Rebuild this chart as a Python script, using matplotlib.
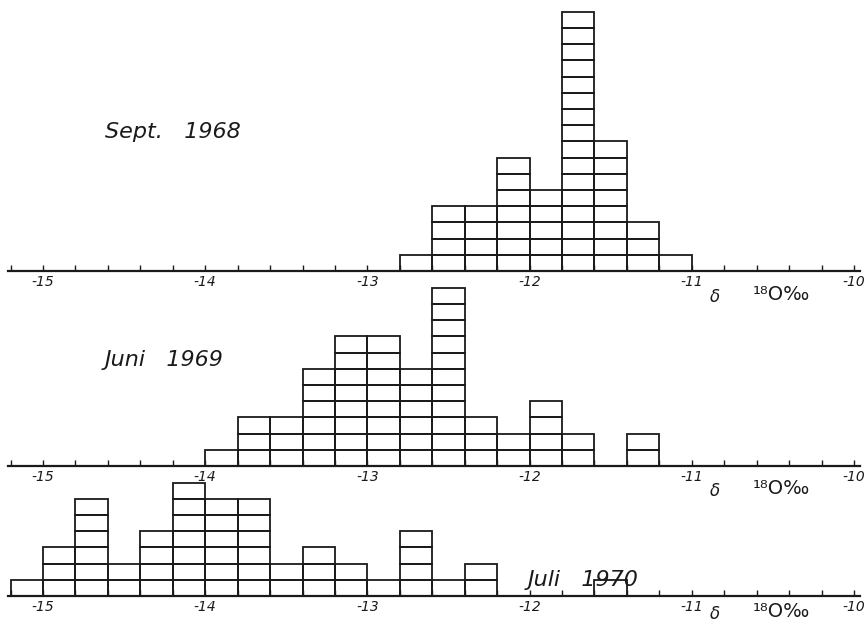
import numpy as np
import matplotlib
matplotlib.use("Agg")
import matplotlib.pyplot as plt

# delta-18O class limits (left edge of each 0.2 permil class) and counts per class
left_1968 = [-12.8, -12.6, -12.4, -12.2, -12.0, -11.8, -11.6, -11.4, -11.2]
count_1968 = [1, 4, 4, 7, 5, 16, 8, 3, 1]

left_1969 = [-14.0, -13.8, -13.6, -13.4, -13.2, -13.0, -12.8, -12.6,
             -12.4, -12.2, -12.0, -11.8, -11.6, -11.4]
count_1969 = [1, 3, 3, 6, 8, 8, 6, 11, 3, 2, 4, 2, 0, 2]

left_1970 = [-15.2, -15.0, -14.8, -14.6, -14.4, -14.2, -14.0, -13.8,
             -13.6, -13.4, -13.2, -13.0, -12.8, -12.6, -12.4, -12.2,
             -12.0, -11.8, -11.6]
count_1970 = [1, 3, 6, 2, 4, 7, 6, 6, 2, 3, 2, 1, 4, 1, 2, 0, 0, 0, 1]

titles = ["Sept.   1968", "Juni   1969", "Juli   1970"]
tick_vals = [-15, -14, -13, -12, -11, -10]

W, H = 868, 627
fig = plt.figure(figsize=(W / 100, H / 100), dpi=100)
fig.patch.set_facecolor("white")

px_per_count = 16.2
ax_left, ax_right = 8, 860          # pixel extent of the axis line
xmin = -15 - (43 - ax_left) / 162.2
xmax = -10 + (ax_right - 854) / 162.2
ink = "#1a1a1a"


def histo(base_px, ymax, lefts, counts, title, title_xy, lab_off):
    h = ymax * px_per_count
    ax = fig.add_axes([ax_left / W, base_px / H, (ax_right - ax_left) / W, h / H])
    lefts = np.array(lefts)
    counts = np.array(counts)
    # every count is drawn as its own box, stacked
    for k in range(counts.max()):
        sel = counts > k
        ax.bar(lefts[sel], 1, width=0.2, bottom=k, align="edge",
               fill=False, edgecolor=ink, linewidth=1.3)
    ax.set_xlim(xmin, xmax)
    ax.set_ylim(0, ymax)
    for s in ["top", "left", "right"]:
        ax.spines[s].set_visible(False)
    ax.spines["bottom"].set_linewidth(1.6)
    ax.spines["bottom"].set_color(ink)
    ax.set_yticks([])
    ax.set_xticks(tick_vals)
    ax.set_xticklabels([str(v) for v in tick_vals], fontstyle="italic",
                       fontsize=10, color=ink)
    ax.set_xticks(np.arange(-15.2, -9.9, 0.2), minor=True)
    ax.tick_params(axis="x", which="both", direction="in", length=4,
                   width=1, color=ink, pad=3)
    ax.patch.set_alpha(0)
    # axis label below the right end of the axis
    ax.annotate("δ", xy=(-10.86, 0), xytext=(0, -lab_off), textcoords="offset points",
                ha="center", va="center", fontsize=12, fontstyle="italic", color=ink)
    ax.annotate("¹⁸O‰", xy=(-10.45, 0), xytext=(0, -lab_off + 2), textcoords="offset points",
                ha="center", va="center", fontsize=14, color=ink)
    fig.text(title_xy[0] / W, 1 - title_xy[1] / H, title, fontsize=16,
             fontstyle="italic", color=ink, ha="left", va="center")
    return ax


histo(H - 271, 16.4, left_1968, count_1968, titles[0], (105, 132), 19)
histo(H - 466, 11.3, left_1969, count_1969, titles[1], (105, 360), 18)
histo(H - 596, 7.4, left_1970, count_1970, titles[2], (528, 580), 13)

fig.savefig("out.png", dpi=100, facecolor="white")
